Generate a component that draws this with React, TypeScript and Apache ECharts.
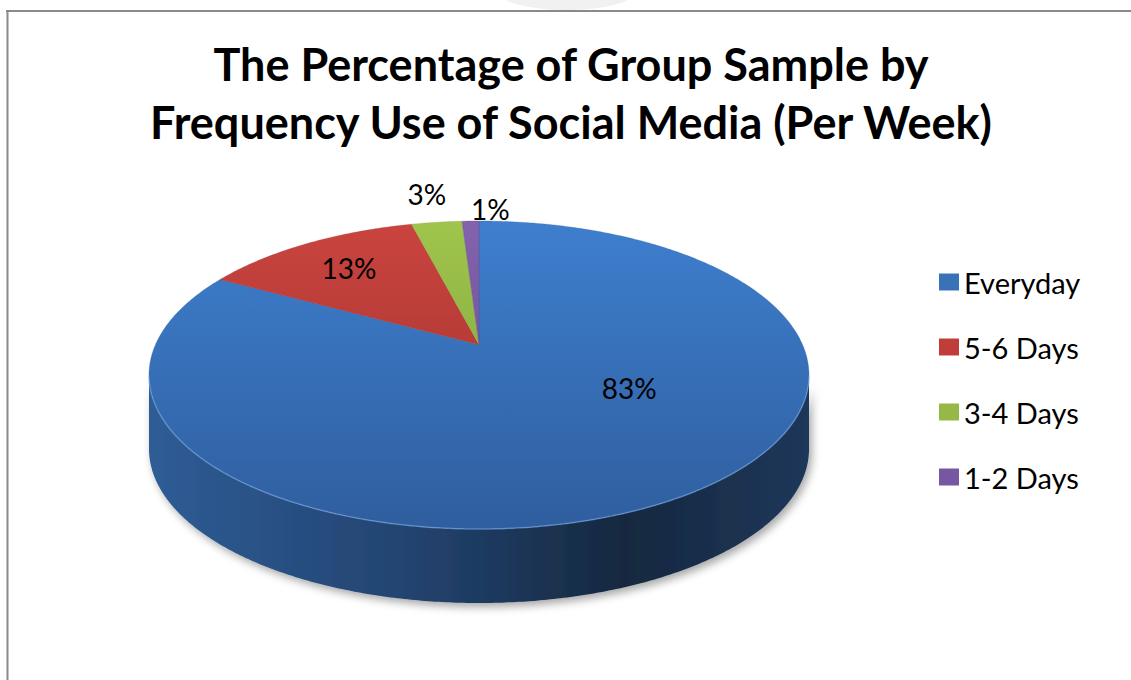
import React, { useEffect, useRef } from "react";
import * as echarts from "echarts";

// ---------- data ----------
const categories = ["Everyday", "5-6 Days", "3-4 Days", "1-2 Days"];
const percentages = [83, 13, 3, 1];
const titleLines = [
  "The Percentage of Group Sample by",
  "Frequency Use of Social Media (Per Week)",
];

// ---------- styles / layout ----------
const topColors = [
  ["#3e7fce", "#2f5e9e"],
  ["#ca443f", "#9c2f2c"],
  ["#a0c54c", "#7a9b39"],
  ["#8462ad", "#634788"],
];
const legendColors = ["#3a72b8", "#c03d39", "#96b846", "#7756a2"];
const sideStops = [
  ["#2f5c96", "#22436f", "#16283f", "#1d375a"],
  ["#8f2b28", "#6f201e", "#4e1614", "#5e1b19"],
  ["#728f34", "#5a7029", "#3e4d1c", "#4a5c22"],
  ["#5e4482", "#4a3566", "#332447", "#3d2b55"],
];
const PIE = { cx: 479, cy: 375, rx: 330, ry: 154, depth: 74, tilt: -0.197 };
const labelRadius = [0.52, 0.73, 1.29, 1.12];
const labelShift = [-27, 0, 0, 4];
const FONT = "Lato, 'Open Sans', sans-serif";

const total = percentages.reduce((s, v) => s + v, 0);
const starts: number[] = [];
{
  let acc = 0;
  for (const v of percentages) {
    starts.push((acc / total) * 360);
    acc += v;
  }
}

function project(thetaDeg: number, r: number, dy = 0): number[] {
  const t = (thetaDeg * Math.PI) / 180;
  const u = r * Math.sin(t);
  const v = -r * Math.cos(t);
  const s = PIE.tilt;
  const d = 1 + s * v;
  const up = (u * Math.sqrt(1 - s * s)) / d;
  const vp = (v + s) / d;
  return [PIE.cx + PIE.rx * up, PIE.cy + PIE.ry * vp + dy];
}

const silL = (Math.acos(PIE.tilt) * 180) / Math.PI; // left/right silhouette angles
const silR = 360 - silL;

function arcPoints(a: number, b: number, r: number, dy = 0): number[][] {
  const pts: number[][] = [];
  const n = Math.max(2, Math.ceil((b - a) / 0.5));
  for (let k = 0; k <= n; k++) pts.push(project(a + ((b - a) * k) / n, r, dy));
  return pts;
}

function makeRenderItem(i: number) {
  return (params: any, api: any) => {
    const value = api.value(0);
    const a = starts[i];
    const b = a + (value / total) * 360;
    const children: any[] = [];

    const lo = Math.max(a, silL);
    const hi = Math.min(b, silR);
    if (hi > lo) {
      const top = arcPoints(lo, hi, 1);
      const bottom = arcPoints(lo, hi, 1, PIE.depth).reverse();
      const st = sideStops[i];
      children.push({
        type: "polygon",
        shape: { points: top.concat(bottom) },
        style: {
          fill: new echarts.graphic.LinearGradient(
            PIE.cx - PIE.rx, 0, PIE.cx + PIE.rx, 0,
            [
              { offset: 0, color: st[0] },
              { offset: 0.4, color: st[1] },
              { offset: 0.72, color: st[2] },
              { offset: 1, color: st[3] },
            ],
            true
          ),
          shadowBlur: 8,
          shadowOffsetX: 3,
          shadowOffsetY: 4,
          shadowColor: "rgba(0,0,0,0.35)",
        },
      });
    }

    const pts = [project(0, 0)].concat(arcPoints(a, b, 1));
    children.push({
      type: "polygon",
      shape: { points: pts },
      style: {
        fill: new echarts.graphic.LinearGradient(
          0, PIE.cy - PIE.ry, 0, PIE.cy + PIE.ry,
          [
            { offset: 0, color: topColors[i][0] },
            { offset: 1, color: topColors[i][1] },
          ],
          true
        ),
        stroke: topColors[i][1],
        lineWidth: 0.3,
      },
    });

    if (hi > lo) {
      children.push({
        type: "polyline",
        shape: { points: arcPoints(lo, hi, 1) },
        style: { stroke: "rgba(120,168,230,0.55)", lineWidth: 1.5, fill: null },
      });
    }

    const mid = (a + b) / 2 + labelShift[i];
    const lp = project(mid, labelRadius[i]);
    children.push({
      type: "text",
      style: {
        text: Math.round((value / total) * 100) + "%",
        x: lp[0],
        y: lp[1],
        align: "center",
        verticalAlign: "middle",
        font: `28px ${FONT}`,
        fill: "#000",
      },
      z2: 10,
    });

    return { type: "group", children };
  };
}

export default function App() {
  const ref = useRef<HTMLDivElement>(null);
  useEffect(() => {
    if (!ref.current) return;
    const chart = echarts.init(ref.current, undefined, { renderer: "svg" });
    const series = categories.map((name, i) => ({
      type: "custom",
      name,
      coordinateSystem: "none",
      renderItem: makeRenderItem(i),
      data: [[percentages[i]]],
      itemStyle: { color: legendColors[i] },
      silent: true,
    }));
    chart.setOption({
      animation: false,
      backgroundColor: "#ffffff",
      legend: {
        orient: "vertical",
        left: 939,
        top: 267,
        padding: 0,
        itemWidth: 20,
        itemHeight: 17,
        itemGap: 35,
        icon: "rect",
        selectedMode: false,
        data: categories,
        textStyle: {
          fontFamily: FONT,
          fontSize: 29,
          lineHeight: 30,
          color: "#000",
        },
      },
      graphic: [
        {
          type: "ellipse",
          shape: { cx: 567, cy: -8, rx: 68, ry: 18 },
          style: { fill: "#f1f1f1" },
          z: -1,
        },
        {
          type: "line",
          shape: { x1: 6, y1: 11, x2: 1131, y2: 11 },
          style: { stroke: "#8a8a8a", lineWidth: 2 },
        },
        {
          type: "line",
          shape: { x1: 7.5, y1: 10, x2: 7.5, y2: 680 },
          style: { stroke: "#8a8a8a", lineWidth: 2 },
        },
        ...titleLines.map((t, k) => ({
          type: "text",
          style: {
            text: t,
            x: 571,
            y: 64 + k * 58,
            align: "center",
            verticalAlign: "middle",
            font: `bold 45px ${FONT}`,
            fill: "#000",
          },
        })),
      ],
      series,
    });
    return () => chart.dispose();
  }, []);
  return (
    <div
      ref={ref}
      style={{ position: "fixed", left: 0, top: 0, width: 1131, height: 680 }}
    />
  );
}
